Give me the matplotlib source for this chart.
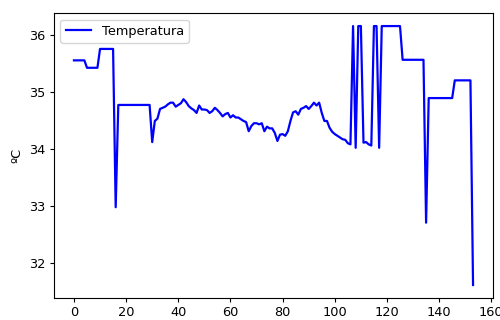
import matplotlib
matplotlib.use("Agg")
import matplotlib.pyplot as plt

# Temperature readings (ºC), one per sample index
temperatura = (
    [35.55] * 5 + [35.42] * 5 + [35.75] * 6 + [32.98] + [34.77] * 13
    + [34.12, 34.49, 34.53, 34.70, 34.72, 34.74, 34.78, 34.81, 34.81, 34.74,
       34.77, 34.80, 34.87, 34.82, 34.75, 34.71, 34.68, 34.63, 34.76, 34.69,
       34.69, 34.68, 34.63, 34.66, 34.72, 34.68, 34.63, 34.57, 34.61, 34.63,
       34.55, 34.59, 34.55, 34.55, 34.52, 34.49, 34.47, 34.31, 34.40, 34.45,
       34.45, 34.43, 34.45, 34.31, 34.39, 34.36, 34.36, 34.28, 34.14, 34.25,
       34.26, 34.23, 34.31, 34.49, 34.64, 34.66, 34.60, 34.70, 34.72, 34.75,
       34.70, 34.75, 34.81, 34.76, 34.81, 34.63, 34.49, 34.49, 34.37, 34.30,
       34.26, 34.23, 34.20, 34.17, 34.16, 34.10, 34.08,
       36.15, 34.02, 36.15, 36.15, 34.11, 34.12, 34.08, 34.06,
       36.15, 36.15, 34.02]
    + [36.15] * 8 + [35.56] * 9 + [32.71] + [34.89] * 10 + [35.20] * 7
    + [31.62]
)

plt.rcParams.update({
    "font.size": 9.3,
    "xtick.major.size": 3.0,
    "ytick.major.size": 3.0,
    "xtick.major.pad": 3.0,
    "ytick.major.pad": 3.0,
})

fig = plt.figure(figsize=(5.0, 3.2), dpi=100)
ax = fig.add_axes([0.108, 0.069, 0.878, 0.890])
ax.plot(range(len(temperatura)), temperatura, color="blue", linewidth=1.6,
        label="Temperatura")
ax.set_ylabel("ºC")
ax.legend(loc="upper left")
fig.savefig("out.png", dpi=100)
